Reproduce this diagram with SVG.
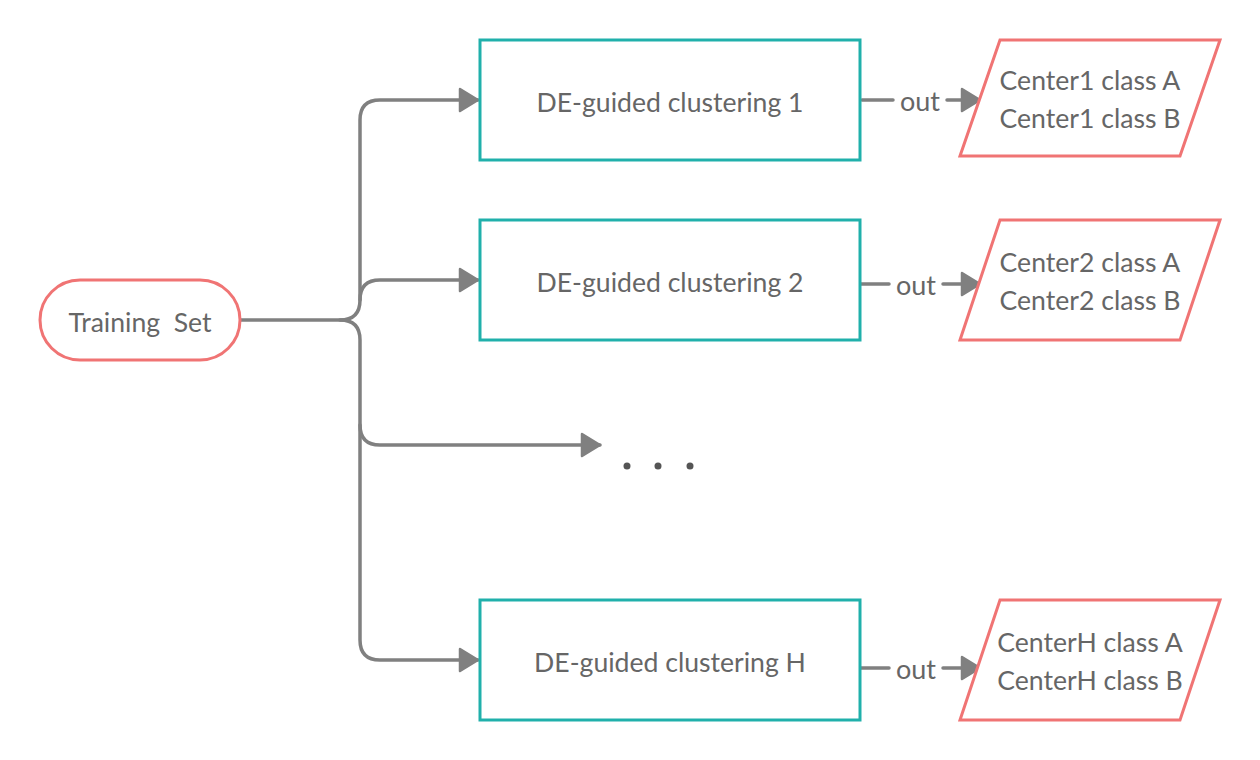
<svg xmlns="http://www.w3.org/2000/svg" width="1260" height="760" viewBox="0 0 1260 760">
<defs>
<style>
.txt{font-family:Lato,"Open Sans","Liberation Sans",sans-serif;font-size:26.6px;fill:#666666;text-anchor:middle;dominant-baseline:central}
.out{font-size:27px}
.box{fill:#ffffff;stroke:#20b0ab;stroke-width:3}
.term{fill:#ffffff;stroke:#f07474;stroke-width:3}
.io{fill:#ffffff;stroke:#f07474;stroke-width:3;stroke-linejoin:miter}
.conn{fill:none;stroke:#808080;stroke-width:3.5;stroke-linecap:round;stroke-linejoin:round}
.dot{fill:#555555}
</style>
<marker id="arr" viewBox="0 0 22 26" refX="20" refY="13" markerWidth="22" markerHeight="26" markerUnits="userSpaceOnUse" orient="auto">
<path d="M2,2 L20,13 L2,24 Z" fill="#808080" stroke="#808080" stroke-width="2.5" stroke-linejoin="round"/>
</marker>
</defs>
<rect width="1260" height="760" fill="#ffffff"/>
<g id="connectors">
<path class="conn" d="M240,320 H340 Q360,320 360,300 V120 Q360,100 380,100 H478" marker-end="url(#arr)"/>
<path class="conn" d="M360,300 Q360,280 380,280 H478" marker-end="url(#arr)"/>
<path class="conn" d="M340,320 Q360,320 360,340 V640 Q360,660 380,660 H478" marker-end="url(#arr)"/>
<path class="conn" d="M360,425 Q360,445 380,445 H600" marker-end="url(#arr)"/>
<path class="conn" d="M862,100 H893"/>
<path class="conn" d="M947,100 H980" marker-end="url(#arr)"/>
<text class="txt out" x="920" y="100">out</text>
<path class="conn" d="M857,284 H889"/>
<path class="conn" d="M943,284 H980" marker-end="url(#arr)"/>
<text class="txt out" x="916" y="284">out</text>
<path class="conn" d="M857,668 H889"/>
<path class="conn" d="M943,668 H980" marker-end="url(#arr)"/>
<text class="txt out" x="916" y="668">out</text>
</g>
<g id="training-set">
<rect class="term" x="40" y="280" width="200" height="80" rx="40" ry="40"/>
<text class="txt" x="140" y="322" xml:space="preserve">Training  Set</text>
</g>
<g id="cluster-1">
<rect class="box" x="480" y="40" width="380" height="120"/>
<text class="txt" x="670" y="102">DE-guided clustering 1</text>
</g>
<g id="cluster-2">
<rect class="box" x="480" y="220" width="380" height="120"/>
<text class="txt" x="670" y="282">DE-guided clustering 2</text>
</g>
<g id="cluster-h">
<rect class="box" x="480" y="600" width="380" height="120"/>
<text class="txt" x="670" y="662">DE-guided clustering H</text>
</g>
<g id="ellipsis">
<circle class="dot" cx="627" cy="466" r="3.5"/>
<circle class="dot" cx="658" cy="466" r="3.5"/>
<circle class="dot" cx="690" cy="466" r="3.5"/>
</g>
<g id="output-1">
<polygon class="io" points="1000,40 1220,40 1180,156 960,156"/>
<text class="txt" x="1090" y="80">Center1 class A</text>
<text class="txt" x="1090" y="118">Center1 class B</text>
</g>
<g id="output-2">
<polygon class="io" points="1000,220 1220,220 1180,340 960,340"/>
<text class="txt" x="1090" y="262">Center2 class A</text>
<text class="txt" x="1090" y="300">Center2 class B</text>
</g>
<g id="output-h">
<polygon class="io" points="1000,600 1220,600 1180,720 960,720"/>
<text class="txt" x="1090" y="642">CenterH class A</text>
<text class="txt" x="1090" y="680">CenterH class B</text>
</g>
</svg>
